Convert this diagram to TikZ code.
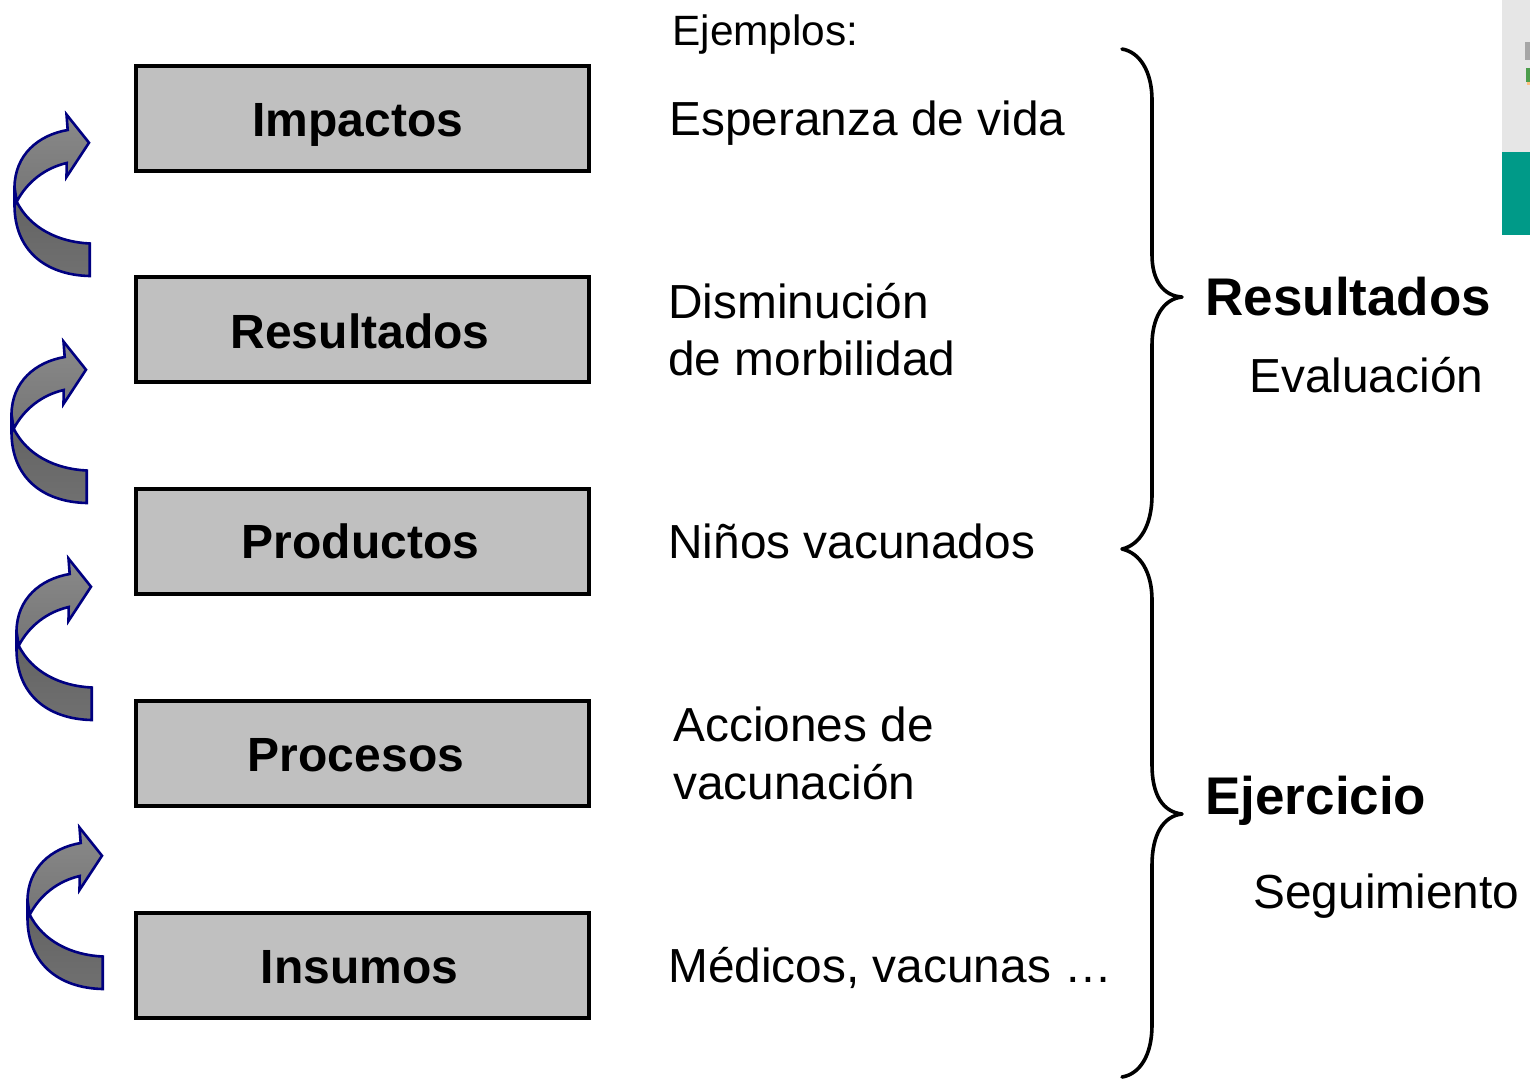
\documentclass[tikz,border=0pt]{standalone}
\usepackage{fontspec}
\setmainfont{Liberation Sans}
\definecolor{navyline}{HTML}{000080}
\definecolor{boxgrey}{HTML}{C0C0C0}
\definecolor{logoteal}{HTML}{009A88}
\definecolor{logogrey}{HTML}{E6E6E6}
\tikzset{
  x=0.5pt,y=-0.5pt,
  levelbox/.style={draw=black,fill=boxgrey,line width=2pt,minimum width=226.5pt,minimum height=52.5pt,inner sep=0pt,rectangle},
  levellabel/.style={anchor=base,font=\fontsize{24}{26}\selectfont\bfseries,inner sep=0pt},
  example/.style={anchor=base west,font=\fontsize{23.9}{26}\selectfont,inner sep=0pt},
  headline/.style={anchor=base west,font=\fontsize{26.5}{30}\selectfont\bfseries,inner sep=0pt},
  bracepath/.style={draw=black,line width=1.8pt,line cap=round,line join=round},
  arrowline/.style={draw=navyline,line width=1.3pt,line join=miter},
  pics/turnarrow/.style={code={
    \path[arrowline,top color=black!62,bottom color=black!56]
      (16.7,201.7) .. controls (30,228) and (58,242) .. (89.7,243.5) -- (89.7,276)
      .. controls (45,275) and (14.5,250) .. (14.5,205) -- (14.5,187) -- cycle;
    \path[arrowline,top color=black!46,bottom color=black!54]
      (67.7,130) -- (66.5,114.5) -- (89,142.7) -- (66.5,177) -- (66.7,163)
      .. controls (45,168) and (27,182) .. (16.7,201.7)
      -- (14.5,187)
      .. controls (15,155) and (38,135) .. (67.7,130) -- cycle;
  }}
}
\begin{document}
\begin{tikzpicture}
\useasboundingbox (0,0) rectangle (1530,1078);
% logo strip
\fill[logogrey] (1502,0) rectangle (1530,152);
\fill[logoteal] (1502,152) rectangle (1530,235);
\fill[black!35] (1525,42) rectangle (1530,60);
\fill[green!45!black!70] (1526,68) rectangle (1530,82);
\fill[orange!50] (1527,82) rectangle (1530,85);
% boxes
\node[levelbox] (impactos) at (362.5,118) {};
\node[levelbox] (resultados) at (362.5,329.5) {};
\node[levelbox] (productos) at (362.5,541.5) {};
\node[levelbox] (procesos) at (362.5,753) {};
\node[levelbox] (insumos) at (362.5,965) {};
\node[levellabel] (limpactos) at (358,136) {Impactos};
\node[levellabel] (lresultados) at (360,348) {Resultados};
\node[levellabel] (lproductos) at (360.5,558) {Productos};
\node[levellabel] (lprocesos) at (356,771) {Procesos};
\node[levellabel] (linsumos) at (359.5,983) {Insumos};
% arrows
\pic at (0,0) {turnarrow};
\pic at (-3,227) {turnarrow};
\pic at (2,444) {turnarrow};
\pic at (13,713) {turnarrow};
% examples
\node[example,font=\fontsize{21.2}{24}\selectfont] (ej) at (672,45) {Ejemplos:};
\node[example] (e1) at (669,135) {Esperanza de vida};
\node[example] (e2a) at (668,318) {Disminución};
\node[example] (e2b) at (668,375) {de morbilidad};
\node[example] (e3) at (668,558) {Niños vacunados};
\node[example] (e4a) at (673,741) {Acciones de};
\node[example] (e4b) at (673,799) {vacunación};
\node[example] (e5) at (668,982) {Médicos, vacunas …};
% braces
\path[bracepath] (1122,49) .. controls (1140,52) and (1152,72) .. (1152,100)
  -- (1152,255) .. controls (1152,280) and (1163,296) .. (1182,297)
  .. controls (1163,299) and (1152,318) .. (1152,345)
  -- (1152,495) .. controls (1152,525) and (1140,545) .. (1122,549)
  .. controls (1140,553) and (1152,572) .. (1152,600)
  -- (1152,765) .. controls (1152,795) and (1163,812) .. (1182,814)
  .. controls (1163,816) and (1152,835) .. (1152,865)
  -- (1152,1025) .. controls (1152,1055) and (1140,1074) .. (1122,1077);
% right labels
\node[headline] (h1) at (1205,315) {Resultados};
\node[example] (s1) at (1249,392) {Evaluación};
\node[headline] (h2) at (1205,814) {Ejercicio};
\node[example] (s2) at (1253,908) {Seguimiento};
\end{tikzpicture}
\end{document}
